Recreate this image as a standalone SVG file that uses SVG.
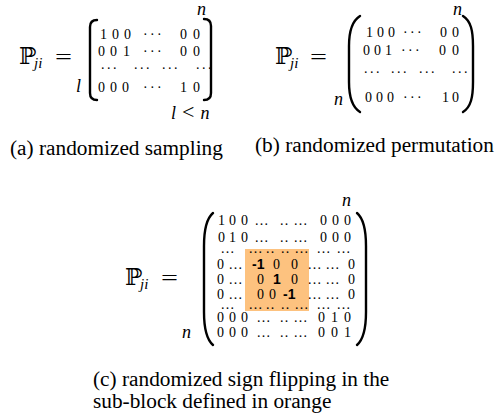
<svg xmlns="http://www.w3.org/2000/svg" width="499" height="419" viewBox="0 0 499 419">
<style>
text { fill:#000; font-family:"Liberation Serif","Times New Roman",serif; }
.m { font-size:14px; }
.e { font-size:14px; letter-spacing:1.2px; }
.b { font-family:"Liberation Sans",Arial,sans-serif; font-size:14px; font-weight:bold; }
.mi { font-style:italic; font-size:18px; }
.sub { font-style:italic; font-size:15px; }
.bb { font-family:"DejaVu Serif",serif; font-size:23px; }
.op { font-size:22px; }
.cap { font-size:21.3px; }
.br { fill:none; stroke:#000; stroke-width:2.4; stroke-linecap:round; }
.blk { fill:#fdc27f; }
</style>

<g id="panel-a">
  <text class="bb" x="19" y="64">ℙ</text>
  <text class="sub" x="34" y="68">ji</text>
  <text class="op" x="55" y="64" textLength="17" lengthAdjust="spacingAndGlyphs">=</text>
  <text class="mi" x="76" y="92">l</text>
  <text class="mi" x="197" y="15">n</text>
  <path class="br" d="M97,20 Q90,20 90,27 L90,93 Q90,100 97,100"/>
  <path class="br" d="M204,19 Q211,19 211,26 L211,93 Q211,100 204,100"/>
  <text class="m" x="100 112 124 143 150 157 180 193" y="39">100···00</text>
  <text class="m" x="98 110 123 143 150 157 180 193" y="56">001···00</text>
  <text class="m" x="101 107 113 134 140 146 162 168 174 196 202 208" y="69">............</text>
  <text class="m" x="98 110 122 143 150 157 180 193" y="92">000···10</text>
  <text x="171" y="119"><tspan class="mi">l</tspan><tspan class="op" dx="6">&lt;</tspan><tspan class="mi" dx="6">n</tspan></text>
  <text class="cap" x="10" y="155">(a) randomized sampling</text>
</g>

<g id="panel-b">
  <text class="bb" x="275" y="64">ℙ</text>
  <text class="sub" x="290" y="68">ji</text>
  <text class="op" x="310" y="64" textLength="17" lengthAdjust="spacingAndGlyphs">=</text>
  <text class="mi" x="334" y="105">n</text>
  <text class="mi" x="453" y="15">n</text>
  <path class="br" d="M360,16 C352,21 349,31 349,46 L349,82 C349,97 352,107 360,112"/>
  <path class="br" d="M463,16 C471,21 473,31 473,46 L473,82 C473,97 471,107 463,112"/>
  <text class="m" x="366 377 388 403 410 417 440 452" y="37">100···00</text>
  <text class="m" x="363 374 385 401 408 415 439 452" y="55">001···00</text>
  <text class="m" x="364 370 376 391 397 403 419 425 431 452 458 464" y="73">............</text>
  <text class="m" x="365 376 387 403 410 417 442 452" y="102">000···10</text>
  <text class="cap" x="255" y="152">(b) randomized permutation</text>
</g>

<g id="panel-c">
  <rect class="blk" x="245" y="249" width="64" height="62"/>
  <text class="bb" x="125" y="285">ℙ</text>
  <text class="sub" x="140" y="289">ji</text>
  <text class="op" x="161" y="285" textLength="17" lengthAdjust="spacingAndGlyphs">=</text>
  <text class="mi" x="182" y="338">n</text>
  <text class="mi" x="342" y="206">n</text>
  <path class="br" d="M213,213 C206,219 204,230 204,246 L204,312 C204,328 206,339 213,345"/>
  <path class="br" d="M357,213 C364,219 366,230 366,246 L366,312 C366,328 364,339 357,345"/>
  <text class="m" y="225"><tspan x="218">1</tspan><tspan x="229">0</tspan><tspan x="241">0</tspan><tspan class="e" x="255">...</tspan><tspan class="e" x="280">..</tspan><tspan class="e" x="294">...</tspan><tspan x="320">0</tspan><tspan x="332">0</tspan><tspan x="344">0</tspan></text>
  <text class="m" y="242"><tspan x="218">0</tspan><tspan x="229">1</tspan><tspan x="241">0</tspan><tspan class="e" x="255">...</tspan><tspan class="e" x="280">..</tspan><tspan class="e" x="294">...</tspan><tspan x="320">0</tspan><tspan x="332">0</tspan><tspan x="344">0</tspan></text>
  <text class="e" y="253"><tspan x="221">...</tspan><tspan x="249">...</tspan><tspan x="266">..</tspan><tspan x="281">..</tspan><tspan x="295">...</tspan><tspan x="317">...</tspan><tspan x="337">...</tspan></text>
  <text class="m" y="269"><tspan x="217">0</tspan><tspan class="e" x="229">...</tspan><tspan class="b" x="252">-1</tspan><tspan x="273">0</tspan><tspan x="291">0</tspan><tspan class="e" x="308">...</tspan><tspan class="e" x="326">...</tspan><tspan x="348">0</tspan></text>
  <text class="m" y="284"><tspan x="217">0</tspan><tspan class="e" x="229">...</tspan><tspan x="257">0</tspan><tspan class="b" x="273">1</tspan><tspan x="291">0</tspan><tspan class="e" x="308">...</tspan><tspan class="e" x="326">...</tspan><tspan x="348">0</tspan></text>
  <text class="m" y="299"><tspan x="217">0</tspan><tspan class="e" x="229">...</tspan><tspan x="257">0</tspan><tspan x="269">0</tspan><tspan class="b" x="283">-1</tspan><tspan class="e" x="308">...</tspan><tspan class="e" x="326">...</tspan><tspan x="348">0</tspan></text>
  <text class="e" y="309"><tspan x="221">...</tspan><tspan x="249">...</tspan><tspan x="266">..</tspan><tspan x="281">..</tspan><tspan x="295">...</tspan><tspan x="317">...</tspan><tspan x="337">...</tspan></text>
  <text class="m" y="322"><tspan x="217">0</tspan><tspan x="229">0</tspan><tspan x="241">0</tspan><tspan class="e" x="257">...</tspan><tspan class="e" x="280">..</tspan><tspan class="e" x="294">...</tspan><tspan x="318">0</tspan><tspan x="331">1</tspan><tspan x="344">0</tspan></text>
  <text class="m" y="337"><tspan x="217">0</tspan><tspan x="229">0</tspan><tspan x="241">0</tspan><tspan class="e" x="257">...</tspan><tspan class="e" x="280">..</tspan><tspan class="e" x="294">...</tspan><tspan x="318">0</tspan><tspan x="331">0</tspan><tspan x="344">1</tspan></text>
  <text class="cap" x="93" y="386">(c) randomized sign flipping in the</text>
  <text class="cap" x="93" y="408">sub-block defined in orange</text>
</g>

<g id="connectors"></g>
</svg>
